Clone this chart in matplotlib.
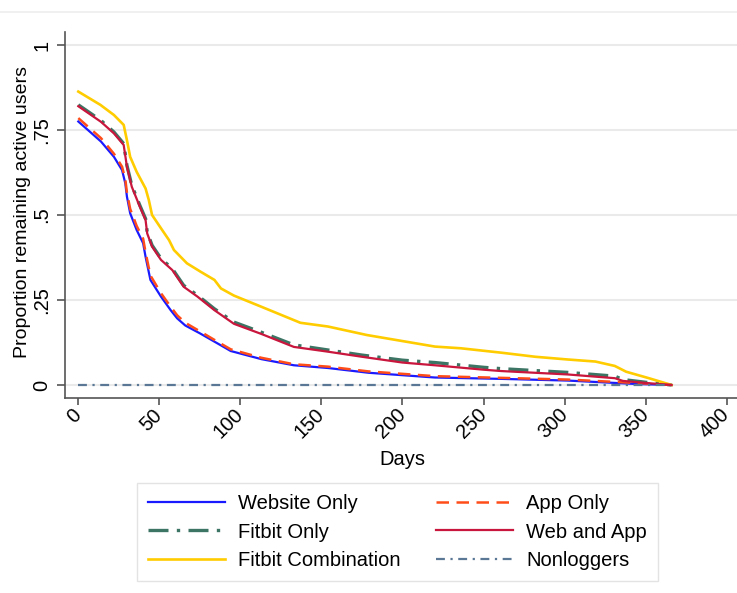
import matplotlib
matplotlib.use("Agg")
import matplotlib.pyplot as plt
from matplotlib.lines import Line2D

plt.rcParams['font.family'] = ['Liberation Sans', 'DejaVu Sans']

# ---- data ----
web_days = [0, 14, 22, 27, 29, 30, 32, 36, 40, 41.5, 44.5, 51, 57, 61, 66, 75, 86, 94, 113, 133, 154, 179, 220, 261, 302, 344, 366]
web_vals = [.775, .716, .671, .632, .593, .554, .505, .456, .417, .377, .309, .26, .22, .196, .175, .152, .122, .1, .076, .058, .05, .036, .022, .018, .013, .003, 0]

app_days = web_days
app_vals = [.785, .726, .68, .642, .605, .566, .518, .468, .43, .39, .322, .27, .23, .205, .183, .158, .127, .105, .08, .061, .054, .04, .026, .021, .016, .006, 0]

fit_days = [0, 14, 22, 28, 30, 33, 38, 41.5, 42.5, 45.5, 51, 58, 65, 73.5, 84, 96, 113, 133, 154, 175, 200, 220, 250, 261, 302, 331, 336, 350, 366]
fit_vals = [.824, .778, .744, .71, .646, .587, .528, .489, .45, .411, .372, .342, .293, .264, .224, .185, .155, .118, .103, .088, .073, .066, .052, .048, .037, .026, .016, .008, 0]

wa_days = fit_days
wa_vals = [.82, .774, .74, .706, .642, .583, .524, .485, .446, .407, .368, .338, .289, .26, .22, .18, .15, .112, .098, .083, .066, .058, .045, .041, .031, .02, .012, .006, 0]

comb_days = [0, 13.6, 22, 28, 30, 32, 36, 41.5, 43.5, 45.5, 51, 56, 59, 67, 75.5, 84, 88, 96, 113, 137, 154, 178, 220, 236, 261, 282, 302, 319, 331, 338, 352, 366]
comb_vals = [.863, .824, .794, .765, .72, .671, .627, .578, .544, .5, .461, .426, .397, .358, .333, .309, .284, .263, .23, .183, .172, .147, .113, .108, .095, .083, .075, .069, .056, .039, .02, 0]

non_days = [0, 365]
non_vals = [0, 0]

x_ticks = [0, 50, 100, 150, 200, 250, 300, 350, 400]
y_ticks = [0, 0.25, 0.5, 0.75, 1]
y_labels = ["0", ".25", ".5", ".75", "1"]

labels = ["Website Only", "App Only", "Fitbit Only", "Web and App", "Fitbit Combination", "Nonloggers"]

# ---- figure ----
W, H = 737, 593
fig = plt.figure(figsize=(W / 100, H / 100), dpi=100)
ax_l, ax_r, ax_t, ax_b = 65, 737, 32, 398
ax = fig.add_axes([ax_l / W, (H - ax_b) / H, (ax_r - ax_l) / W, (ax_b - ax_t) / H])

fig.add_artist(Line2D([0, 1], [1 - 12 / H, 1 - 12 / H], color='#eeeeee', lw=1.2))

for y in y_ticks:
    ax.axhline(y, color='#eaeaea', lw=1.5, zorder=0)

lw = 1.6
h_web, = ax.plot(web_days, web_vals, color='#1a1aff', lw=lw, label=labels[0], zorder=3)
h_app, = ax.plot(app_days, app_vals, color='#ff4d1a', lw=lw + 0.2, ls=(0, (5, 3)), label=labels[1], zorder=4)
h_fit, = ax.plot(fit_days, fit_vals, color='#3d7565', lw=2.4, ls=(0, (6, 2.5, 1, 2.5)), label=labels[2], zorder=3)
h_wa, = ax.plot(wa_days, wa_vals, color='#c8163c', lw=lw, label=labels[3], zorder=4)
h_comb, = ax.plot(comb_days, comb_vals, color='#ffcc00', lw=lw + 0.3, label=labels[4], zorder=3)
h_non, = ax.plot(non_days, non_vals, color='#5a7896', lw=lw, ls=(0, (4, 2.5, 1, 2.5)), label=labels[5], zorder=5)

x_scale = 1.621  # px per day
ax.set_xlim((ax_l - 78.3) / x_scale, (ax_r - 78.3) / x_scale)
ax.set_ylim(-(ax_b - 385) / 340, 1 + (45 - ax_t) / 340)

for s in ['top', 'right']:
    ax.spines[s].set_visible(False)
for s in ['left', 'bottom']:
    ax.spines[s].set_color('#555555')
    ax.spines[s].set_linewidth(1.2)

fs = 14.5
ax.set_xticks(x_ticks)
ax.set_xticklabels([str(t) for t in x_ticks], rotation=45, ha='right', va='center',
                   rotation_mode='anchor', fontsize=fs)
ax.set_yticks(y_ticks)
ax.set_yticklabels(y_labels, rotation=90, va='center', fontsize=fs)
ax.tick_params(axis='x', direction='out', length=5, width=1.2, color='#555555', pad=5)
ax.tick_params(axis='y', direction='out', length=5.8, width=1.2, color='#555555', pad=4)

ax.set_xlabel("Days", fontsize=fs)
ax.xaxis.set_label_coords(0.502, (ax_b - 450) / (ax_b - ax_t))
ax.set_ylabel("Proportion remaining active users", fontsize=14)
ax.yaxis.set_label_coords((31 - ax_l) / (ax_r - ax_l), (ax_b - 211.5) / (ax_b - ax_t))

# column-major order so rows read: Website/App, Fitbit/WebApp, Comb/Non
handles = [h_web, h_fit, h_comb, h_app, h_wa, h_non]
labs = [h.get_label() for h in handles]
leg = fig.legend(handles, labs, ncol=2, loc='upper left',
                 bbox_to_anchor=(137 / W, 1 - 483 / H),
                 fontsize=fs, handlelength=3.83, columnspacing=1.74, handletextpad=0.65,
                 labelspacing=0.47, borderpad=0.55, borderaxespad=0, frameon=True, fancybox=False)
leg.get_frame().set_edgecolor('#dddddd')
leg.get_frame().set_linewidth(1.0)

fig.savefig("out.png", dpi=100)
